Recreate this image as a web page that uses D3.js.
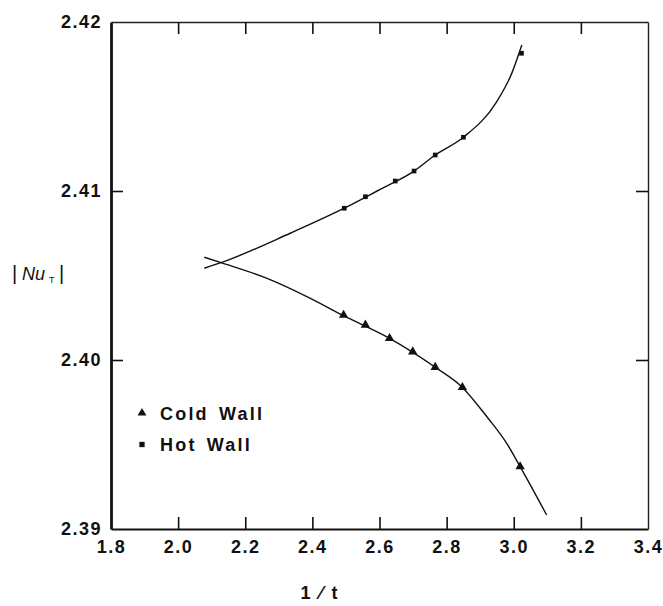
<!DOCTYPE html>
<html>
<head>
<meta charset="utf-8">
<script src="https://cdn.jsdelivr.net/npm/d3@7"></script>
<style>
  html, body { margin: 0; padding: 0; background: #fff; }
  svg { display: block; }
  text { font-family: "Liberation Sans", Arial, Helvetica, sans-serif; fill: #111; }
</style>
</head>
<body>
<svg id="chart" width="663" height="606"></svg>
<script>
// Tick values
const xTicks = [1.8, 2.0, 2.2, 2.4, 2.6, 2.8, 3.0, 3.2, 3.4];
const yTicks = [2.39, 2.40, 2.41, 2.42];

// Measured points: 1/t and |Nu_T|
const coldX = [2.493, 2.558, 2.630, 2.699, 2.766, 2.847, 3.019];
const coldY = [2.40266, 2.40207, 2.40128, 2.40049, 2.39957, 2.39838, 2.39369];
const hotX  = [2.495, 2.558, 2.647, 2.703, 2.766, 2.850, 3.023];
const hotY  = [2.40898, 2.40966, 2.41059, 2.41118, 2.41213, 2.41318, 2.41815];

// Fitted curves through the data
const coldCurveX = [2.078, 2.128, 2.265, 2.394, 2.493, 2.630, 2.766, 2.847, 2.920, 2.979, 3.019, 3.098];
const coldCurveY = [2.40608, 2.40576, 2.40483, 2.40365, 2.40262, 2.40128, 2.39957, 2.39838, 2.39664, 2.39507, 2.39369, 2.39083];
const hotCurveX  = [2.078, 2.128, 2.334, 2.495, 2.602, 2.703, 2.766, 2.850, 2.949, 2.994, 3.024];
const hotCurveY  = [2.40543, 2.40576, 2.40750, 2.40898, 2.41010, 2.41118, 2.41213, 2.41318, 2.41528, 2.41696, 2.41864];

const legendLabels = ["Cold Wall", "Hot Wall"];

const svg = d3.select("#chart");
const W = 663, H = 606;
const margin = { top: 22, right: 15, bottom: 77, left: 111 };

const x = d3.scaleLinear().domain([1.8, 3.4]).range([margin.left, W - margin.right]);
const y = d3.scaleLinear().domain([2.39, 2.42]).range([H - margin.bottom, margin.top]);

const fmtX = d3.format(".1f");
const fmtY = d3.format(".2f");
const innerX = xTicks.slice(1, -1);
const innerY = yTicks.slice(1, -1);

// Bottom axis with labels, ticks pointing inward
const gBottom = svg.append("g")
  .attr("transform", `translate(0,${y(2.39)})`)
  .call(d3.axisBottom(x).tickValues(xTicks).tickFormat(fmtX).tickSizeInner(-12).tickSizeOuter(0).tickPadding(11));
gBottom.selectAll("line").filter(d => d === 1.8 || d === 3.4).remove();
gBottom.select(".domain").attr("stroke", "#111").attr("stroke-width", 2.2);

// Top axis: ticks only
const gTop = svg.append("g")
  .attr("transform", `translate(0,${y(2.42)})`)
  .call(d3.axisTop(x).tickValues(innerX).tickFormat("").tickSizeInner(-12).tickSizeOuter(0));
gTop.select(".domain").attr("stroke", "#222").attr("stroke-width", 1.4);

// Left axis with labels
const gLeft = svg.append("g")
  .attr("transform", `translate(${x(1.8)},0)`)
  .call(d3.axisLeft(y).tickValues(yTicks).tickFormat(fmtY).tickSizeInner(-12).tickSizeOuter(0).tickPadding(9));
gLeft.selectAll("line").filter(d => d === 2.39 || d === 2.42).remove();
gLeft.select(".domain").attr("stroke", "#111").attr("stroke-width", 2.8);

// Right axis: ticks only
const gRight = svg.append("g")
  .attr("transform", `translate(${x(3.4)},0)`)
  .call(d3.axisRight(y).tickValues(innerY).tickFormat("").tickSizeInner(-12).tickSizeOuter(0));
gRight.select(".domain").attr("stroke", "#222").attr("stroke-width", 1.4);

[gBottom, gTop, gLeft, gRight].forEach(g => {
  g.selectAll(".tick line").attr("stroke", "#111").attr("stroke-width", 1.6);
});
[gBottom, gLeft].forEach(g => {
  g.selectAll(".tick text")
    .attr("font-size", 18)
    .attr("font-weight", "bold")
    .attr("letter-spacing", 1.5)
    .attr("fill", "#111");
});

// Axis titles
svg.append("text")
  .attr("x", 320)
  .attr("y", 599)
  .attr("text-anchor", "middle")
  .attr("font-size", 18)
  .attr("font-weight", "bold")
  .attr("letter-spacing", 2)
  .text("1 ⁄ t");

const yTitle = svg.append("text")
  .attr("y", 280)
  .attr("font-size", 18);
yTitle.append("tspan").attr("x", 12).attr("font-size", 20).text("|");
yTitle.append("tspan").attr("x", 22).attr("font-style", "italic").text("Nu");
yTitle.append("tspan").attr("x", 49).attr("dy", 3).attr("font-size", 9).text("T");
yTitle.append("tspan").attr("x", 59).attr("dy", -3).attr("font-size", 20).text("|");

// Curves
const line = d3.line().x(d => x(d[0])).y(d => y(d[1])).curve(d3.curveMonotoneX);
const coldCurve = d3.zip(coldCurveX, coldCurveY);
const hotCurve = d3.zip(hotCurveX, hotCurveY);

svg.append("path").datum(coldCurve)
  .attr("d", line).attr("fill", "none").attr("stroke", "#111").attr("stroke-width", 1.4);
svg.append("path").datum(hotCurve)
  .attr("d", line).attr("fill", "none").attr("stroke", "#111").attr("stroke-width", 1.4);

// Markers
const tri = d3.symbol(d3.symbolTriangle).size(38);
const sq = d3.symbol(d3.symbolSquare).size(22);

svg.append("g").selectAll("path")
  .data(d3.zip(coldX, coldY))
  .join("path")
  .attr("d", tri)
  .attr("transform", d => `translate(${x(d[0])},${y(d[1])})`)
  .attr("fill", "#111");

svg.append("g").selectAll("path")
  .data(d3.zip(hotX, hotY))
  .join("path")
  .attr("d", sq)
  .attr("transform", d => `translate(${x(d[0])},${y(d[1])})`)
  .attr("fill", "#111");

// Legend
const legend = svg.append("g");
const legendRows = [
  { label: legendLabels[0], symbol: d3.symbol(d3.symbolTriangle).size(34), cy: 413 },
  { label: legendLabels[1], symbol: d3.symbol(d3.symbolSquare).size(28), cy: 444.5 }
];
legendRows.forEach(r => {
  legend.append("path")
    .attr("d", r.symbol)
    .attr("transform", `translate(142,${r.cy})`)
    .attr("fill", "#111");
  legend.append("text")
    .attr("x", 160)
    .attr("y", r.cy + 6.5)
    .attr("font-size", 18)
    .attr("font-weight", "bold")
    .attr("letter-spacing", 2.2)
    .attr("word-spacing", 3)
    .text(r.label);
});
</script>
</body>
</html>
